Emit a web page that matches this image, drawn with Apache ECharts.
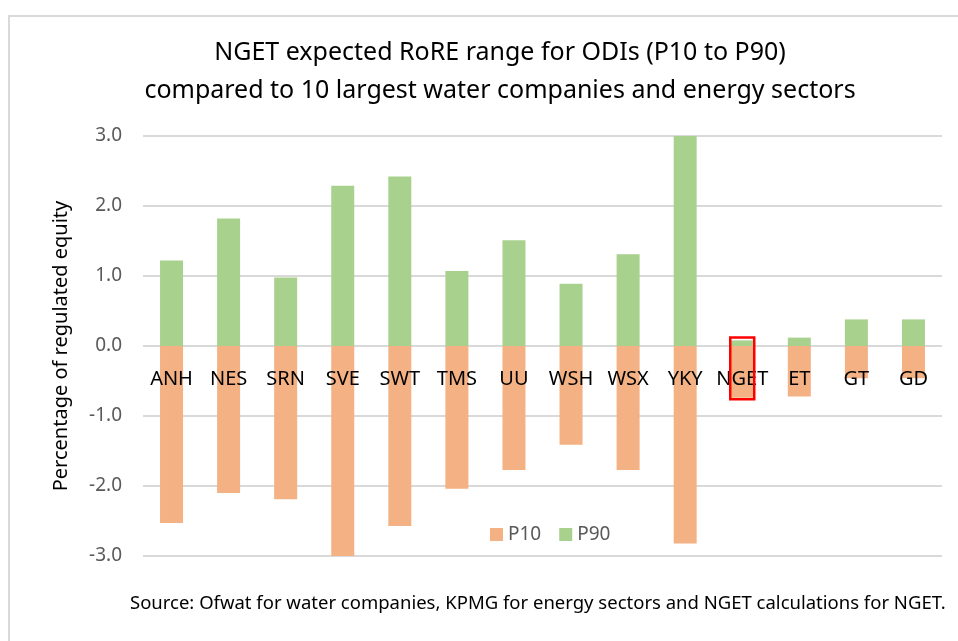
<!DOCTYPE html>
<html>
<head>
<meta charset="utf-8">
<script src="https://cdn.jsdelivr.net/npm/echarts@6/dist/echarts.min.js"></script>
<style>
  html, body { margin: 0; padding: 0; background: #fff; }
  #chart { width: 958px; height: 641px; }
</style>
</head>
<body>
<div id="chart"></div>
<script>
// companies / sectors along the x axis
var categories = ['ANH', 'NES', 'SRN', 'SVE', 'SWT', 'TMS', 'UU', 'WSH', 'WSX', 'YKY', 'NGET', 'ET', 'GT', 'GD'];
// RoRE range, % of regulated equity
var p10 = [-2.53, -2.10, -2.19, -3.0, -2.57, -2.04, -1.77, -1.41, -1.77, -2.82, -0.74, -0.72, -0.46, -0.46];
var p90 = [1.22, 1.82, 0.98, 2.29, 2.42, 1.07, 1.51, 0.89, 1.31, 3.0, 0.08, 0.12, 0.38, 0.38];
var yTicks = [-3, -2, -1, 0, 1, 2, 3];
// red box drawn round NGET
var highlightCat = 'NGET';
var highlightRange = [0.12, -0.76];

var chart = echarts.init(document.getElementById('chart'));
var font = 'Noto Sans';

var option = {
  backgroundColor: '#fff',
  animation: false,
  textStyle: { fontFamily: font },
  title: {
    text: 'NGET expected RoRE range for ODIs (P10 to P90)\ncompared to 10 largest water companies and energy sectors',
    left: 495,
    top: 29,
    textAlign: 'center',
    textStyle: { fontFamily: font, fontSize: 25, fontWeight: 'normal', color: '#000', lineHeight: 38 }
  },
  legend: {
    data: ['P10', 'P90'],
    left: 485,
    top: 520,
    icon: 'rect',
    itemWidth: 13,
    itemHeight: 13,
    itemGap: 18,
    textStyle: { fontFamily: font, fontSize: 19, color: '#595959' }
  },
  grid: { left: 143, right: 16, top: 136, bottom: 85 },
  xAxis: {
    type: 'category',
    data: categories,
    z: 5,
    axisLine: { show: false, onZero: false },
    axisTick: { show: false },
    // labels sit just under the zero line, as in the original
    axisLabel: { color: '#000', fontSize: 20, margin: -187, interval: 0 }
  },
  yAxis: {
    type: 'value',
    min: yTicks[0],
    max: yTicks[yTicks.length - 1],
    interval: 1,
    name: 'Percentage of regulated equity',
    nameLocation: 'middle',
    nameGap: 72,
    nameTextStyle: { fontFamily: font, fontSize: 20, color: '#000' },
    axisLine: { show: false },
    axisTick: { show: false },
    axisLabel: {
      color: '#595959', fontSize: 19, margin: 21,
      formatter: function (v) { return v.toFixed(1); }
    },
    splitLine: { lineStyle: { color: '#d9d9d9', width: 2 } }
  },
  series: [
    {
      name: 'P10',
      type: 'bar',
      stack: 'range',
      data: p10,
      barWidth: 23,
      itemStyle: { color: '#F4B183' }
    },
    {
      name: 'P90',
      type: 'bar',
      stack: 'range',
      data: p90,
      barWidth: 23,
      itemStyle: { color: '#A9D18E' }
    },
    {
      type: 'custom',
      name: 'highlight',
      z: 10,
      data: [[categories.indexOf(highlightCat), highlightRange[0], highlightRange[1]]],
      renderItem: function (params, api) {
        var top = api.coord([api.value(0), api.value(1)]);
        var bot = api.coord([api.value(0), api.value(2)]);
        var w = 24;
        return {
          type: 'rect',
          shape: { x: top[0] - w / 2, y: top[1], width: w, height: bot[1] - top[1] },
          style: { fill: 'none', stroke: '#FF0000', lineWidth: 2.5 }
        };
      }
    }
  ],
  graphic: [
    {
      type: 'rect',
      silent: true,
      shape: { x: 9, y: 16, width: 1000, height: 700 },
      style: { fill: 'none', stroke: '#d9d9d9', lineWidth: 2 }
    },
    {
      type: 'text',
      left: 130,
      top: 594,
      style: {
        text: 'Source: Ofwat for water companies, KPMG for energy sectors and NGET calculations for NGET.',
        fontFamily: font,
        fontSize: 18.5,
        fill: '#000'
      }
    }
  ]
};

chart.setOption(option);
</script>
</body>
</html>
